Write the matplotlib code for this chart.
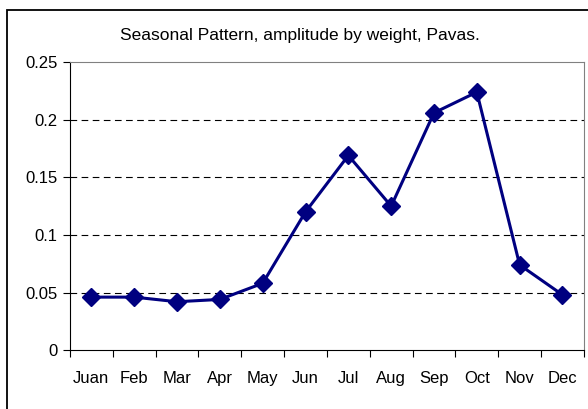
import numpy as np
import matplotlib.pyplot as plt
from matplotlib.patches import Rectangle

plt.rcParams['font.family'] = ['Liberation Sans', 'DejaVu Sans']

months = ['Juan', 'Feb', 'Mar', 'Apr', 'May', 'Jun', 'Jul', 'Aug', 'Sep', 'Oct', 'Nov', 'Dec']
amplitude = [0.046, 0.046, 0.042, 0.044, 0.058, 0.120, 0.169, 0.125, 0.206, 0.224, 0.074, 0.048]
yticks = [0, 0.05, 0.1, 0.15, 0.2, 0.25]

fig = plt.figure(figsize=(5.88, 4.09), dpi=100)
ax = fig.add_axes([0.119, 0.144, 0.874, 0.704])

# outer chart frame (runs off the right and bottom edges like the reference)
fig.patches.append(Rectangle((7/588, -5/409), 600/588, 404/409, transform=fig.transFigure,
                             fill=False, edgecolor='black', linewidth=1.3))

x = np.arange(len(months))
ax.plot(x, amplitude, color='#000080', linewidth=2.2, marker='D', markersize=9)

ax.set_xlim(-0.5, len(months) - 0.5)
ax.set_ylim(0, 0.25)
ax.set_yticks(yticks)
ax.set_yticklabels(['0', '0.05', '0.1', '0.15', '0.2', '0.25'])
ax.set_xticks(np.arange(-0.5, len(months), 1.0))
ax.set_xticklabels([])
ax.set_xticks(x, minor=True)
ax.set_xticklabels(months, minor=True)
ax.tick_params(axis='x', which='minor', length=0, pad=15, labelsize=12)
ax.tick_params(axis='x', which='major', length=5, direction='out')
ax.tick_params(axis='y', length=5, direction='out', labelsize=12, pad=4)

for v in yticks[1:-1]:
    ax.axhline(v, color='black', linestyle=(0, (6, 4)), linewidth=0.8, zorder=0)

ax.spines['top'].set_color('#808080')
ax.spines['right'].set_color('#808080')
ax.spines['left'].set_color('black')
ax.spines['bottom'].set_color('black')

fig.text(0.51, 0.913, 'Seasonal Pattern, amplitude by weight, Pavas.', ha='center', va='center', fontsize=12.5)

fig.savefig('out.png', dpi=100)
